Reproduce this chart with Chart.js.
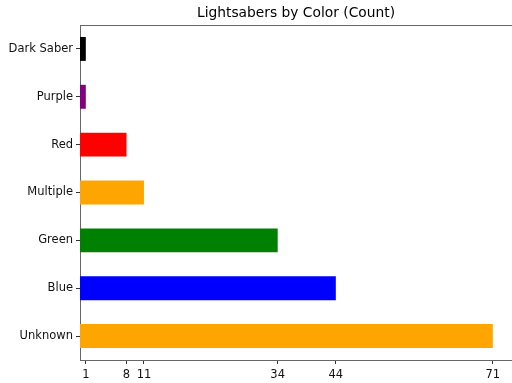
<!DOCTYPE html>
<html lang="en">
<head>
    <meta charset="UTF-8">
    <title>Lightsabers by Color (Count)</title>
    <style>
        body { margin: 0; padding: 0; background: white; }
        #wrap { width: 512px; height: 383px; }
    </style>
    <script src="https://cdn.jsdelivr.net/npm/chart.js"></script>
</head>
<body>
    <div id="wrap"><canvas id="sabers"></canvas></div>

    <script>
    // data, top to bottom as drawn
    const colorNames = ["Dark Saber", "Purple", "Red", "Multiple", "Green", "Blue", "Unknown"];
    const counts = [1, 1, 8, 11, 34, 44, 71];
    const barColors = ["#000000", "#800080", "#ff0000", "#ffa500", "#008000", "#0000ff", "#ffa500"];
    const xTicks = [1, 8, 11, 34, 44, 71];
    const chartTitle = "Lightsabers by Color (Count)";

    // top spine + title centred over the plot area (matplotlib style)
    const frameAndTitle = {
        id: "frameAndTitle",
        afterDraw(chart) {
            const ctx = chart.ctx, a = chart.chartArea;
            ctx.save();
            ctx.strokeStyle = "#666";
            ctx.lineWidth = 1;
            ctx.beginPath();
            ctx.moveTo(a.left, a.top + 0.5);
            ctx.lineTo(a.right, a.top + 0.5);
            ctx.stroke();
            ctx.fillStyle = "#000";
            ctx.font = "13.8px 'DejaVu Sans'";
            ctx.textAlign = "center";
            ctx.textBaseline = "middle";
            ctx.fillText(chartTitle, (a.left + a.right) / 2, 13.5);
            ctx.restore();
        }
    };

    new Chart(document.getElementById("sabers"), {
        type: "bar",
        data: {
            labels: colorNames,
            datasets: [{
                data: counts,
                backgroundColor: barColors,
                barPercentage: 0.5,
                categoryPercentage: 1.0
            }]
        },
        options: {
            indexAxis: "y",
            responsive: true,
            maintainAspectRatio: false,
            animation: false,
            layout: { padding: { left: 0, right: 0, top: 25, bottom: 0 } },
            plugins: {
                legend: { display: false },
                tooltip: { enabled: false },
                title: { display: false }
            },
            scales: {
                x: {
                    min: 0,
                    max: 74.3,
                    afterBuildTicks(scale) {
                        scale.ticks = xTicks.map(v => ({ value: v }));
                    },
                    afterFit(scale) { scale.height = 23; },
                    grid: {
                        drawOnChartArea: false,
                        drawTicks: true,
                        tickLength: 4,
                        color: "#333"
                    },
                    border: { display: true, color: "#666", width: 1 },
                    ticks: {
                        autoSkip: false,
                        maxRotation: 0,
                        padding: 4,
                        color: "#111",
                        font: { family: "DejaVu Sans", size: 11.5 }
                    }
                },
                y: {
                    afterFit(scale) { scale.width = 80; },
                    grid: {
                        offset: false,
                        drawOnChartArea: false,
                        drawTicks: true,
                        tickLength: 4,
                        color: "#333"
                    },
                    border: { display: true, color: "#666", width: 1 },
                    ticks: {
                        padding: 3,
                        color: "#111",
                        font: { family: "DejaVu Sans", size: 11.5 }
                    }
                }
            }
        },
        plugins: [frameAndTitle]
    });
    </script>
</body>
</html>
